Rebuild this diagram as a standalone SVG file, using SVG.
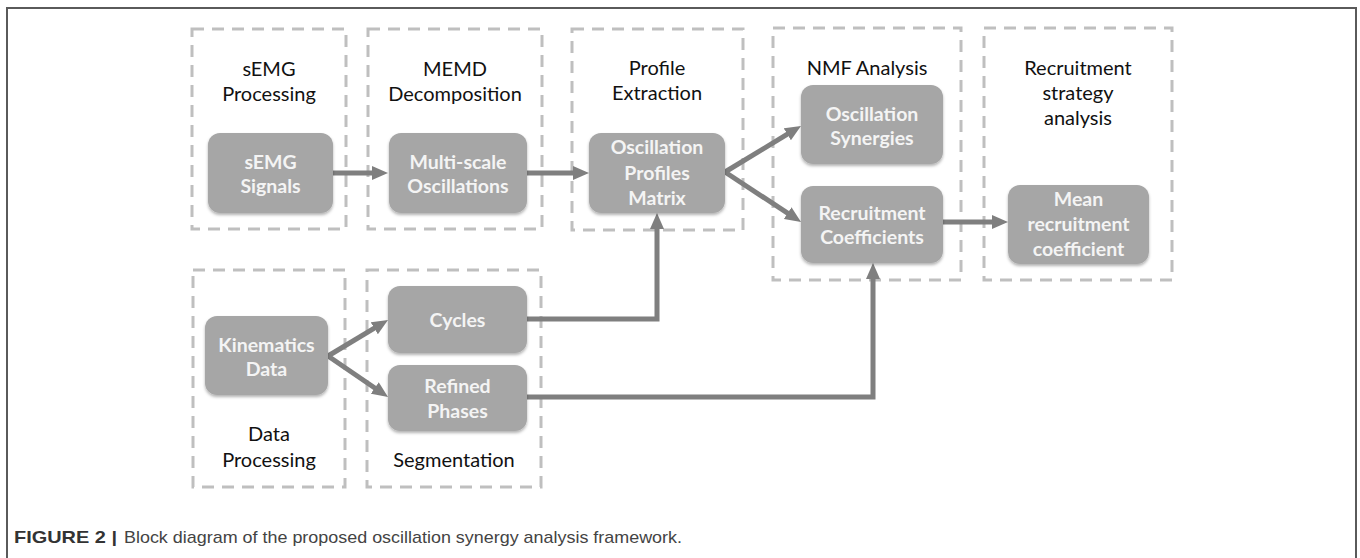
<svg xmlns="http://www.w3.org/2000/svg" width="1360" height="558" viewBox="0 0 1360 558">
  <style>
    .stage { fill: none; stroke: #bfbfbf; stroke-width: 3; stroke-dasharray: 12 8; }
    .title { font-family: Lato, "Open Sans", "Liberation Sans", sans-serif; font-size: 20px; fill: #111; text-anchor: middle; }
    .node rect { fill: #a6a6a6; filter: url(#shadow); }
    .node text { font-family: Lato, "Open Sans", "Liberation Sans", sans-serif; font-weight: bold; font-size: 19.5px; fill: #f4f4f4; text-anchor: middle; }
    .link { fill: none; stroke: #7f7f7f; stroke-width: 5; stroke-linejoin: miter; marker-end: url(#head); }
    .cap { font-family: "Liberation Sans Narrow", "Liberation Sans", Arial, sans-serif; font-size: 17px; }
  </style>
  <defs>
    <filter id="shadow" x="-10%" y="-10%" width="120%" height="130%">
      <feDropShadow dx="0" dy="2" stdDeviation="1.5" flood-color="#000" flood-opacity="0.3"/>
    </filter>
    <marker id="head" markerUnits="userSpaceOnUse" viewBox="0 0 16 14" markerWidth="16" markerHeight="14" refX="4" refY="7" orient="auto">
      <path d="M0,0 L16,7 L0,14 z" fill="#7f7f7f"/>
    </marker>
  </defs>

  <rect width="1360" height="558" fill="#fff"/>
  <!-- figure frame -->
  <rect x="7" y="8" width="1349" height="600" fill="none" stroke="#5a5a5a" stroke-width="2"/>

  <!-- stage panels -->
  <g id="stage-semg">
    <rect class="stage" x="192" y="29" width="154" height="200"/>
    <text class="title" x="269" y="76">sEMG</text>
    <text class="title" x="269" y="101">Processing</text>
  </g>
  <g id="stage-memd">
    <rect class="stage" x="368" y="29" width="174" height="200"/>
    <text class="title" x="455" y="76">MEMD</text>
    <text class="title" x="455" y="101">Decomposition</text>
  </g>
  <g id="stage-profile">
    <rect class="stage" x="572" y="29" width="171" height="201"/>
    <text class="title" x="657" y="75">Profile</text>
    <text class="title" x="657" y="100">Extraction</text>
  </g>
  <g id="stage-nmf">
    <rect class="stage" x="773" y="28" width="188" height="252"/>
    <text class="title" x="867" y="75">NMF Analysis</text>
  </g>
  <g id="stage-strategy">
    <rect class="stage" x="984" y="28" width="188" height="252"/>
    <text class="title" x="1078" y="75">Recruitment</text>
    <text class="title" x="1078" y="100">strategy</text>
    <text class="title" x="1078" y="125">analysis</text>
  </g>
  <g id="stage-data">
    <rect class="stage" x="193" y="270" width="152" height="217"/>
    <text class="title" x="269" y="441">Data</text>
    <text class="title" x="269" y="467">Processing</text>
  </g>
  <g id="stage-segmentation">
    <rect class="stage" x="367" y="270" width="174" height="217"/>
    <text class="title" x="454" y="467">Segmentation</text>
  </g>

  <!-- connectors -->
  <g id="connectors">
    <line class="link" x1="333" y1="173" x2="376" y2="173"/>
    <line class="link" x1="527" y1="173" x2="577" y2="173"/>
    <line class="link" x1="725" y1="172" x2="790.7" y2="132.2"/>
    <line class="link" x1="725" y1="172" x2="791" y2="215.4"/>
    <line class="link" x1="943" y1="222" x2="996" y2="222"/>
    <line class="link" x1="328" y1="356" x2="377.7" y2="326.2"/>
    <line class="link" x1="328" y1="356" x2="378.1" y2="390.2"/>
    <path class="link" d="M527,319 H657 V225"/>
    <path class="link" d="M527,397 H873 V275"/>
  </g>

  <!-- nodes -->
  <g id="node-semg-signals" class="node">
    <rect x="208" y="133" width="125" height="80" rx="12"/>
    <text x="270.5" y="169">sEMG</text>
    <text x="270.5" y="193">Signals</text>
  </g>
  <g id="node-multiscale" class="node">
    <rect x="389" y="133" width="138" height="80" rx="12"/>
    <text x="458" y="169">Multi-scale</text>
    <text x="458" y="193">Oscillations</text>
  </g>
  <g id="node-profiles-matrix" class="node">
    <rect x="589" y="133" width="136" height="80" rx="12"/>
    <text x="657" y="154">Oscillation</text>
    <text x="657" y="179.5">Profiles</text>
    <text x="657" y="205">Matrix</text>
  </g>
  <g id="node-synergies" class="node">
    <rect x="801" y="85" width="142" height="79" rx="12"/>
    <text x="872" y="120.5">Oscillation</text>
    <text x="872" y="144.5">Synergies</text>
  </g>
  <g id="node-coefficients" class="node">
    <rect x="801" y="186" width="142" height="77" rx="12"/>
    <text x="872" y="220">Recruitment</text>
    <text x="872" y="244">Coefficients</text>
  </g>
  <g id="node-mean" class="node">
    <rect x="1008" y="185" width="141" height="79" rx="12"/>
    <text x="1078.5" y="206">Mean</text>
    <text x="1078.5" y="231">recruitment</text>
    <text x="1078.5" y="256">coefficient</text>
  </g>
  <g id="node-kinematics" class="node">
    <rect x="205" y="316" width="123" height="79" rx="12"/>
    <text x="266.5" y="351.5">Kinematics</text>
    <text x="266.5" y="375.5">Data</text>
  </g>
  <g id="node-cycles" class="node">
    <rect x="388" y="286" width="139" height="67" rx="12"/>
    <text x="457.5" y="326.5">Cycles</text>
  </g>
  <g id="node-phases" class="node">
    <rect x="388" y="365" width="139" height="66" rx="12"/>
    <text x="457.5" y="393">Refined</text>
    <text x="457.5" y="417.5">Phases</text>
  </g>

  <!-- caption -->
  <text class="cap" x="14" y="543" font-weight="bold" fill="#333" textLength="103" lengthAdjust="spacingAndGlyphs">FIGURE 2 |</text>
  <text class="cap" x="124" y="543" fill="#444" textLength="558" lengthAdjust="spacingAndGlyphs">Block diagram of the proposed oscillation synergy analysis framework.</text>
</svg>
